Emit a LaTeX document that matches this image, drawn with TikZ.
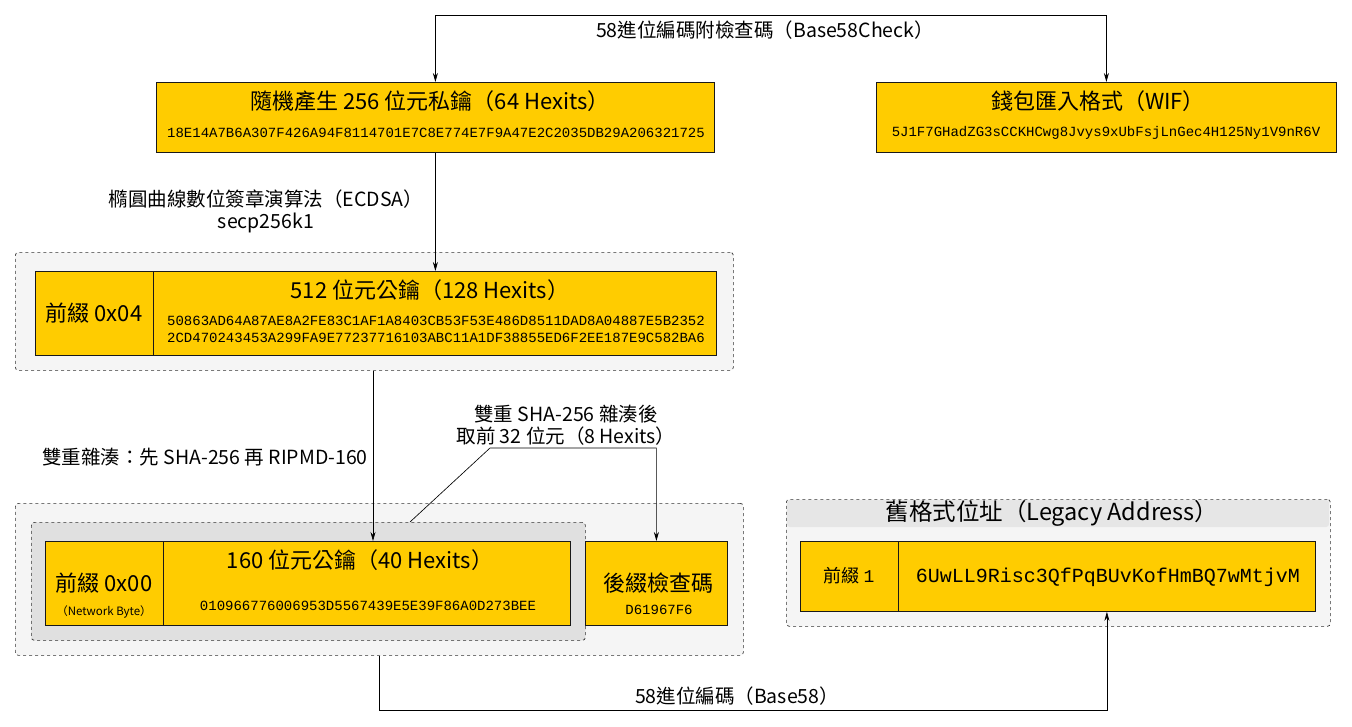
\documentclass[tikz,border=0pt]{standalone}
\usepackage{fontspec}
\setmainfont{Noto Sans CJK TC}
\setmonofont{Liberation Mono}
\usetikzlibrary{arrows.meta}
\tikzset{
  ybox/.style={draw=black!90, line width=0.8pt, fill=ycol, inner sep=0pt, anchor=north west},
  cont/.style={draw=black!80, dashed, line width=0.7pt, fill=cont1col, rounded corners=3pt, inner sep=0pt, anchor=north west},
  contdark/.style={cont, fill=cont2col},
  ttl/.style={font=\fontsize{22}{26}\selectfont, inner sep=0pt},
  lbl/.style={font=\fontsize{19.5}{22}\selectfont, inner sep=0pt, align=center},
  hex/.style={font=\ttfamily\fontsize{14}{17}\selectfont, inner sep=0pt, align=left},
  arr/.style={-{Stealth[length=9pt,width=5pt]}, line width=0.65pt},
  arrboth/.style={{Stealth[length=9pt,width=5pt]}-{Stealth[length=9pt,width=5pt]}, line width=0.65pt}
}
\definecolor{ycol}{HTML}{FFCC00}
\definecolor{cont1col}{HTML}{F5F5F5}
\definecolor{cont2col}{HTML}{E0E0E0}
\definecolor{hdrcol}{HTML}{E6E6E6}
\begin{document}
\begin{tikzpicture}[x=1pt,y=-1pt]
\useasboundingbox (0,0) rectangle (1352,726);
% private key
\node[ybox, minimum width=558pt, minimum height=70pt] (priv) at (156,82) {};
\node[ttl] (privt) at (430,101) {隨機產生 256 位元私鑰（64 Hexits）};
\node[hex] (privh) at (436,133) {18E14A7B6A307F426A94F8114701E7C8E774E7F9A47E2C2035DB29A206321725};
% WIF
\node[ybox, minimum width=460pt, minimum height=70pt] (wif) at (876,82) {};
\node[ttl] (wift) at (1098,101) {錢包匯入格式（WIF）};
\node[hex] (wifh) at (1106,133) {5J1F7GHadZG3sCCKHCwg8Jvys9xUbFsjLnGec4H125Ny1V9nR6V};
% container 1
\node[cont, minimum width=718pt, minimum height=118pt] (c1) at (15,252) {};
\node[ybox, minimum width=118pt, minimum height=84pt] (pre4) at (35,271) {};
\node[ttl] (pre4t) at (94,313) {前綴 0x04};
\node[ybox, minimum width=563pt, minimum height=84pt] (pub512) at (153,271) {};
\node[ttl] (pub512t) at (430,290) {512 位元公鑰（128 Hexits）};
\node[hex] (pub512h) at (436,329) {50863AD64A87AE8A2FE83C1AF1A8403CB53F53E486D8511DAD8A04887E5B2352\\2CD470243453A299FA9E77237716103ABC11A1DF38855ED6F2EE187E9C582BA6};
% container 2
\node[cont, minimum width=728pt, minimum height=152pt] (c2) at (15,503) {};
\node[contdark, minimum width=554pt, minimum height=118pt] (c3) at (31,522) {};
\node[ybox, minimum width=118pt, minimum height=84pt] (pre0) at (45,541) {};
\node[ttl] (pre0t) at (104,583) {前綴 0x00};
\node[font=\fontsize{11.5}{13}\selectfont, inner sep=0pt] (pre0n) at (104,612) {（Network Byte）};
\node[ybox, minimum width=407pt, minimum height=84pt] (pub160) at (163,541) {};
\node[ttl] (pub160t) at (360,560) {160 位元公鑰（40 Hexits）};
\node[hex] (pub160h) at (368,606) {010966776006953D5567439E5E39F86A0D273BEE};
\node[ybox, minimum width=142pt, minimum height=84pt] (cks) at (585,541) {};
\node[ttl] (ckst) at (658,583) {後綴檢查碼};
\node[hex] (cksh) at (659,610) {D61967F6};
% legacy
\node[cont, minimum width=544pt, minimum height=127pt] (leg) at (786,499) {};
\fill[hdrcol, rounded corners=3pt] (787,500) rectangle (1329,527);
\node[font=\fontsize{23.5}{27}\selectfont, inner sep=0pt] (legt) at (1052,513) {舊格式位址（Legacy Address）};
\node[ybox, minimum width=98pt, minimum height=70pt] (pre1) at (800,541) {};
\node[ttl, font=\fontsize{18}{22}\selectfont] (pre1t) at (849,576) {前綴 {\ttfamily 1}};
\node[ybox, minimum width=417pt, minimum height=70pt] (addr) at (898,541) {};
\node[hex, font=\ttfamily\fontsize{20}{23}\selectfont] (addrt) at (1108,577) {6UwLL9Risc3QfPqBUvKofHmBQ7wMtjvM};
% connectors
\draw[arrboth] (priv.north) -- ++(0,-67) coordinate (tl) -| (wif.north);
\node[lbl] (l1) at (765,30) {58進位編碼附檢查碼（Base58Check）};
\draw[arr] (priv.south) -- (priv.south |- pub512.north);
\node[lbl] (l2) at (266,211) {橢圓曲線數位簽章演算法（ECDSA）\\secp256k1};
\draw[arr] (c1.south -| 373,0) -- (373,541);
\node[lbl] (l3) at (205,457) {雙重雜湊：先 SHA-256 再 RIPMD-160};
\coordinate (cs) at (410,522);
\coordinate (cb) at (490,448);
\draw[arr] (cs) -- (cb) -| (cks.north);
\node[lbl] (l4) at (566,425) {雙重 SHA-256 雜湊後\\取前 32 位元（8 Hexits）};
\draw[arr] (c2.south) -- ++(0,55) -| (addr.south);
\node[lbl] (l5) at (737,696) {58進位編碼（Base58）};
\end{tikzpicture}
\end{document}
